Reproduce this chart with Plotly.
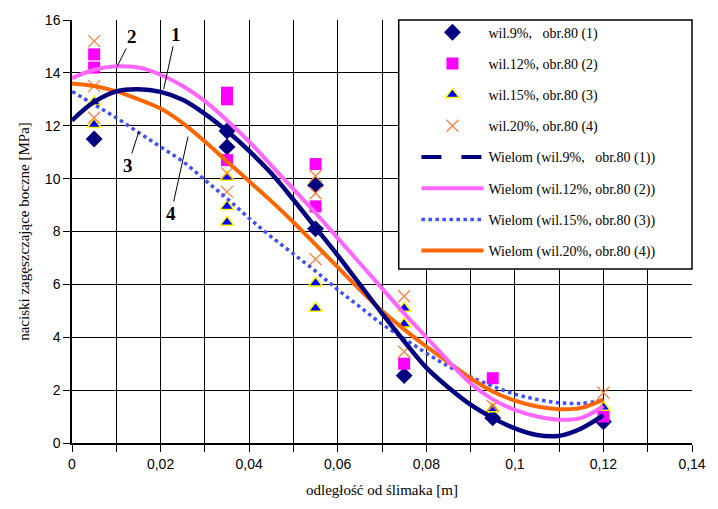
import plotly.graph_objects as go

# ---------------- data ----------------
# measured points (x = distance [m], y = pressure [MPa])
s1_x = [0.005, 0.035, 0.035, 0.055, 0.055, 0.075, 0.095, 0.12]
s1_y = [11.5, 11.8, 11.2, 9.75, 8.1, 2.55, 0.95, 0.8]

s2_x = [0.005, 0.005, 0.035, 0.035, 0.035, 0.055, 0.055, 0.075, 0.095, 0.12]
s2_y = [14.7, 14.2, 13.25, 13.0, 10.7, 10.55, 8.95, 3.0, 2.45, 1.0]

s3_x = [0.005, 0.005, 0.035, 0.035, 0.035, 0.055, 0.055, 0.075, 0.075, 0.095, 0.12]
s3_y = [12.05, 12.9, 10.05, 8.95, 8.35, 6.05, 5.1, 5.1, 4.5, 1.3, 1.35]

s4_x = [0.005, 0.005, 0.005, 0.035, 0.035, 0.055, 0.055, 0.055, 0.075, 0.075, 0.095, 0.12]
s4_y = [15.2, 13.5, 12.3, 10.2, 9.5, 10.1, 9.45, 6.95, 5.55, 3.45, 1.4, 1.9]

# polynomial trend lines
trend_x = [0, 0.005, 0.01, 0.015, 0.02, 0.025, 0.03, 0.035, 0.04, 0.045, 0.05, 0.055,
           0.06, 0.065, 0.07, 0.075, 0.08, 0.085, 0.09, 0.095, 0.1, 0.105, 0.11, 0.115, 0.12]
trend1 = [12.2, 12.9, 13.3, 13.38, 13.28, 12.98, 12.45, 11.8, 11.05, 10.2, 9.2, 8.15,
          7.1, 6.0, 4.9, 3.85, 2.85, 2.1, 1.45, 0.95, 0.55, 0.3, 0.27, 0.55, 1.05]
trend2 = [13.8, 14.12, 14.25, 14.2, 13.93, 13.5, 12.93, 12.2, 11.4, 10.5, 9.6, 8.7,
          7.75, 6.8, 5.85, 4.9, 4.0, 3.1, 2.25, 1.65, 1.25, 1.0, 0.88, 0.95, 1.4]
trend3 = [13.3, 12.8, 12.3, 11.75, 11.2, 10.65, 9.95, 9.25, 8.5, 7.8, 7.15, 6.5,
          5.8, 5.15, 4.5, 3.95, 3.4, 2.9, 2.5, 2.15, 1.85, 1.65, 1.52, 1.5, 1.62]
trend4 = [13.6, 13.5, 13.3, 13.0, 12.65, 12.1, 11.4, 10.65, 9.9, 9.15, 8.35, 7.5,
          6.65, 5.8, 5.0, 4.3, 3.65, 3.05, 2.45, 1.95, 1.6, 1.38, 1.28, 1.33, 1.65]

names_pts = ["wil.9%,\u00a0\u00a0 obr.80 (1)", "wil.12%, obr.80 (2)",
             "wil.15%, obr.80 (3)", "wil.20%, obr.80 (4)"]
names_lines = ["Wielom (wil.9%,\u00a0\u00a0 obr.80 (1))", "Wielom (wil.12%, obr.80 (2))",
               "Wielom (wil.15%, obr.80 (3))", "Wielom (wil.20%, obr.80 (4))"]

x_tickvals = [0, 0.02, 0.04, 0.06, 0.08, 0.1, 0.12, 0.14]
x_ticktext = ["0", "0,02", "0,04", "0,06", "0,08", "0,1", "0,12", "0,14"]
y_tickvals = [0, 2, 4, 6, 8, 10, 12, 14, 16]

# labels on curves: (label, x, y of curve point, text offset px)
curve_labels = [("1", 0.0207, 13.38, 12, -55), ("2", 0.0102, 14.24, 15, -30),
                ("3", 0.0151, 11.78, -11, 34), ("4", 0.0262, 11.59, -17, 77)]

# ---------------- figure ----------------
NAVY = "#000080"
MAG = "#FF00FF"
PINK = "#FF66FF"
BLUE = "#0000FF"
DOTBLUE = "#4050FF"
ORANGE = "#FF6600"
XORANGE = "#FF8040"

fig = go.Figure()

fig.add_trace(go.Scatter(x=s1_x, y=s1_y, mode="markers", name=names_pts[0],
                         legendgroup="a", legendrank=1,
                         marker=dict(symbol="diamond", size=13, color=NAVY)))
fig.add_trace(go.Scatter(x=s2_x, y=s2_y, mode="markers", name=names_pts[1],
                         legendgroup="b", legendrank=2,
                         marker=dict(symbol="square", size=12, color=MAG)))
fig.add_trace(go.Scatter(x=s3_x, y=s3_y, mode="markers", name=names_pts[2],
                         legendgroup="c", legendrank=3,
                         marker=dict(symbol="triangle-up", size=12, color=BLUE,
                                     line=dict(color="#FFFF00", width=1.5))))
fig.add_trace(go.Scatter(x=s4_x, y=s4_y, mode="markers", name=names_pts[3],
                         legendgroup="d", legendrank=4,
                         marker=dict(symbol="x-thin", size=12,
                                     line=dict(color=XORANGE, width=1.3))))

# trend lines
fig.add_trace(go.Scatter(x=trend_x, y=trend3, mode="lines", name=names_lines[2],
                         legendgroup="g", legendrank=7,
                         line=dict(color=DOTBLUE, width=3.5, dash="dot", shape="spline")))
fig.add_trace(go.Scatter(x=trend_x, y=trend4, mode="lines", name=names_lines[3],
                         legendgroup="h", legendrank=8,
                         line=dict(color=ORANGE, width=4, shape="spline")))
fig.add_trace(go.Scatter(x=trend_x, y=trend2, mode="lines", name=names_lines[1],
                         legendgroup="f", legendrank=6,
                         line=dict(color=PINK, width=4, shape="spline")))
fig.add_trace(go.Scatter(x=trend_x, y=trend1, mode="lines", showlegend=False,
                         line=dict(color=NAVY, width=4.5, shape="spline")))
# legend proxy for dashed navy trend line
fig.add_trace(go.Scatter(x=[None], y=[None], mode="lines", name=names_lines[0],
                         legendgroup="e", legendrank=5,
                         line=dict(color=NAVY, width=4, dash="longdash")))

for lab, cx, cy, ax, ay in curve_labels:
    fig.add_annotation(x=cx, y=cy, text="<b>" + lab + "</b>", showarrow=True,
                       arrowhead=0, arrowwidth=1, arrowcolor="black", ax=ax, ay=ay,
                       font=dict(family="Liberation Serif", size=19, color="black"))

# legend box
fig.add_shape(type="rect", xref="paper", yref="paper", x0=(404 - 72) / 630, x1=1.0,
              y0=(443 - 267) / 428, y1=1.0, fillcolor="white",
              line=dict(color="black", width=1.5), layer="above")

fig.update_layout(
    width=718, height=509,
    margin=dict(l=72, r=16, t=15, b=66),
    paper_bgcolor="white", plot_bgcolor="white",
    font=dict(family="Liberation Serif", size=14, color="black"),
    showlegend=True,
    legend=dict(x=(422 - 72) / 630, xanchor="left", y=1.008, yanchor="top",
                bgcolor="rgba(0,0,0,0)", borderwidth=0, itemwidth=62,
                tracegroupgap=10, traceorder="grouped",
                font=dict(family="Liberation Serif", size=14, color="black")),
    xaxis=dict(range=[0, 0.14], tickvals=x_tickvals, ticktext=x_ticktext,
               showgrid=True, gridcolor="black", gridwidth=1,
               minor=dict(dtick=0.01, showgrid=True, gridcolor="black", gridwidth=1,
                          ticks="outside", ticklen=7, tickcolor="black"),
               ticks="outside", ticklen=7, tickcolor="black",
               showline=True, linecolor="black", linewidth=1.5, zeroline=False,
               tickfont=dict(family="Liberation Sans", size=14, color="black"),
               title=dict(text="odległość od ślimaka [m]", standoff=14,
                          font=dict(family="Liberation Serif", size=15))),
    yaxis=dict(range=[0, 16], tickvals=y_tickvals,
               showgrid=True, gridcolor="black", gridwidth=1,
               ticks="outside", ticklen=7, tickcolor="black",
               showline=True, linecolor="black", linewidth=1.5, zeroline=False,
               tickfont=dict(family="Liberation Sans", size=14, color="black"),
               title=dict(text="naciski zagęszczające boczne [MPa]", standoff=12,
                          font=dict(family="Liberation Serif", size=15))),
)

fig.write_html("out.html")
